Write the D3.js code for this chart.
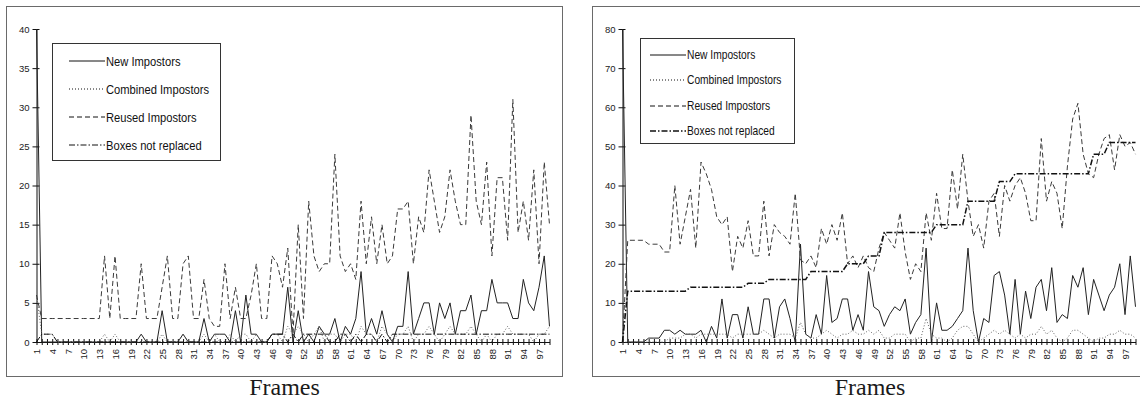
<!DOCTYPE html>
<html lang="en">
<head>
<meta charset="UTF-8">
<title>Impostors per frame</title>
<script src="https://cdn.jsdelivr.net/npm/d3@7/dist/d3.min.js"></script>
<style>
    body { margin: 0; background: #fff; }
    svg { display: block; }
    .tick text { font-family: "Liberation Sans", Arial, sans-serif; font-size: 9.5px; fill: #222; }
    .legend text { font-family: "Liberation Sans Narrow", "Arial Narrow", "Liberation Sans", sans-serif; fill: #111; }
    .frames { font-family: "Liberation Serif", "Times New Roman", serif; font-size: 24px; fill: #1a1a1a; }
</style>
</head>
<body>
<svg id="chart" width="1140" height="408"></svg>
<script>
// frames 1..99 on the category axis
var frames = d3.range(1, 100)
var xLabels = [1, 4, 7, 10, 13, 16, 19, 22, 25, 28, 31, 34, 37, 40, 43, 46, 49, 52, 55, 58,
    61, 64, 67, 70, 73, 76, 79, 82, 85, 88, 91, 94, 97]
var leftYTicks = [0, 5, 10, 15, 20, 25, 30, 35, 40]
var rightYTicks = [0, 10, 20, 30, 40, 50, 60, 70, 80]
var seriesNames = ['New Impostors', 'Combined Impostors', 'Reused Impostors', 'Boxes not replaced']

// left chart
var leftNew = [40, 0, 0, 0, 0, 0, 0, 0, 0, 0,
    0, 0, 0, 0, 0, 0, 0, 0, 0, 0,
    1, 0, 0, 0, 4, 0, 0, 0, 1, 0,
    0, 0, 3, 0, 1, 1, 1, 0, 4, 0,
    6, 1, 1, 0, 0, 1, 1, 1, 7, 0,
    4, 0, 1, 0, 2, 1, 1, 3, 0, 2,
    1, 3, 9, 1, 3, 1, 4, 1, 0, 2,
    2, 9, 1, 3, 5, 5, 1, 5, 3, 5,
    1, 4, 4, 6, 1, 4, 4, 8, 5, 5,
    5, 3, 3, 8, 5, 4, 7, 11, 2]
var leftCombined = [6, 1, 1, 1, 0, 0, 0, 0, 0, 0,
    0, 0, 0, 1, 0, 1, 0, 0, 0, 0,
    0, 0, 0, 0, 1, 0, 0, 0, 1, 0,
    0, 0, 1, 0, 1, 0, 0, 1, 0, 1,
    1, 0, 1, 0, 0, 1, 1, 0, 2, 1,
    2, 1, 0, 1, 2, 0, 1, 1, 0, 1,
    1, 0, 2, 1, 1, 0, 2, 1, 0, 1,
    1, 2, 0, 1, 1, 2, 1, 0, 1, 2,
    1, 1, 1, 2, 1, 0, 1, 0, 1, 1,
    2, 1, 1, 1, 1, 0, 1, 1, 2]
var leftReused = [6, 3, 3, 3, 3, 3, 3, 3, 3, 3,
    3, 3, 3, 11, 3, 11, 3, 3, 3, 3,
    10, 3, 3, 3, 7, 11, 3, 3, 10, 11,
    3, 3, 8, 3, 2, 2, 10, 3, 7, 3,
    3, 6, 10, 3, 3, 11, 10, 7, 12, 1,
    15, 3, 18, 11, 9, 10, 10, 24, 11, 9,
    10, 8, 18, 10, 16, 10, 15, 10, 11, 17,
    17, 18, 10, 16, 14, 22, 18, 14, 16, 22,
    18, 15, 15, 29, 18, 15, 23, 11, 21, 21,
    13, 31, 14, 18, 13, 22, 10, 23, 15]
var leftBoxes = [0, 1, 1, 1, 0, 0, 0, 0, 0, 0,
    0, 0, 0, 0, 0, 0, 0, 0, 0, 0,
    0, 0, 0, 0, 0, 0, 0, 0, 0, 0,
    0, 0, 0, 0, 0, 0, 0, 0, 0, 0,
    0, 0, 0, 0, 0, 1, 1, 1, 0, 1,
    0, 1, 1, 1, 1, 1, 0, 0, 1, 1,
    0, 1, 0, 1, 1, 0, 1, 0, 1, 1,
    1, 1, 1, 1, 1, 1, 1, 1, 1, 1,
    1, 1, 1, 1, 1, 1, 1, 1, 1, 1,
    1, 1, 1, 1, 1, 1, 1, 1, 1]

// right chart
var rightNew = [80, 0, 0, 0, 0, 1, 1, 1, 3, 3,
    2, 3, 2, 2, 2, 3, 0, 4, 1, 11,
    1, 7, 7, 1, 9, 2, 2, 11, 11, 1,
    9, 11, 6, 0, 25, 2, 1, 7, 2, 17,
    5, 6, 11, 11, 3, 7, 3, 18, 9, 8,
    4, 7, 9, 8, 11, 2, 5, 7, 24, 0,
    10, 3, 3, 4, 6, 8, 24, 8, 0, 6,
    5, 17, 18, 12, 2, 16, 2, 13, 6, 14,
    16, 8, 19, 5, 7, 6, 17, 14, 19, 7,
    16, 12, 8, 12, 14, 20, 7, 22, 9]
var rightCombined = [0, 0, 0, 0, 0, 0, 0, 0, 0, 1,
    1, 1, 2, 2, 1, 2, 2, 2, 2, 2,
    2, 1, 2, 2, 2, 2, 2, 3, 2, 1,
    2, 2, 2, 1, 5, 2, 1, 1, 2, 3,
    2, 1, 2, 2, 3, 2, 2, 3, 2, 3,
    1, 1, 2, 2, 2, 0, 1, 1, 6, 2,
    1, 1, 0, 1, 3, 4, 4, 2, 0, 1,
    2, 3, 2, 3, 2, 1, 2, 1, 2, 2,
    4, 2, 3, 1, 0, 1, 3, 3, 2, 1,
    0, 1, 1, 2, 2, 3, 2, 2, 1]
var rightReused = [0, 26, 26, 26, 26, 25, 25, 25, 23, 23,
    40, 25, 32, 39, 24, 46, 43, 39, 32, 30,
    32, 18, 27, 24, 31, 22, 22, 36, 22, 30,
    28, 27, 25, 38, 21, 20, 22, 19, 29, 25,
    30, 26, 33, 20, 22, 19, 22, 19, 18, 24,
    28, 26, 24, 33, 23, 16, 20, 18, 33, 26,
    38, 29, 29, 44, 34, 48, 36, 27, 30, 24,
    36, 38, 27, 40, 36, 40, 42, 38, 31, 31,
    52, 36, 41, 38, 29, 45, 57, 61, 48, 43,
    42, 48, 52, 53, 44, 53, 50, 51, 48]
var rightBoxes = [0, 13, 13, 13, 13, 13, 13, 13, 13, 13,
    13, 13, 13, 14, 14, 14, 14, 14, 14, 14,
    14, 14, 14, 14, 15, 15, 15, 15, 16, 16,
    16, 16, 16, 16, 16, 16, 18, 18, 18, 18,
    18, 18, 18, 20, 20, 20, 20, 22, 22, 22,
    28, 28, 28, 28, 28, 28, 28, 28, 28, 28,
    30, 30, 30, 30, 30, 30, 36, 36, 36, 36,
    36, 36, 41, 41, 41, 43, 43, 43, 43, 43,
    43, 43, 43, 43, 43, 43, 43, 43, 43, 43,
    48, 48, 48, 51, 51, 51, 51, 51, 51]

var svg = d3.select('#chart')
svg.append('rect').attr('width', 1140).attr('height', 408).attr('fill', '#fff')

// line looks per series (same order as seriesNames)
var looks = [
    {stroke: '#222', dash: null},
    {stroke: '#666', dash: '1,2'},
    {stroke: '#3a3a3a', dash: '5,3'},
    {stroke: '#111', dash: '6,2,1.5,2'}
]

function drawPanel (opt) {
    var g = svg.append('g')

    g.append('rect')
        .attr('x', opt.box[0] + 0.5).attr('y', opt.box[1] + 0.5)
        .attr('width', opt.box[2]).attr('height', opt.box[3])
        .attr('fill', 'none').attr('stroke', '#6a6a6a')

    var x = d3.scalePoint().domain(frames).range(opt.xRange)
    var y = d3.scaleLinear().domain([0, opt.yMax]).range([342, 29])

    // y axis, ticks cross the line
    var yAxis = g.append('g')
        .attr('transform', 'translate(' + opt.xRange[0] + ',0)')
        .call(d3.axisLeft(y).tickValues(opt.yTicks).tickSize(4).tickSizeOuter(0).tickPadding(4))
    yAxis.select('.domain').attr('stroke', '#111')
    yAxis.selectAll('.tick line').attr('x1', 3).attr('x2', -4).attr('stroke', '#111')
    yAxis.selectAll('.tick text').attr('x', -7)

    var xAxis = g.append('g')
        .attr('transform', 'translate(0,' + y(0) + ')')
        .call(d3.axisBottom(x).tickValues(frames).tickSizeOuter(0)
            .tickFormat(function (d) { return xLabels.indexOf(d) >= 0 ? d : '' }))
    xAxis.select('.domain').attr('stroke', '#111')
    xAxis.selectAll('.tick line').attr('y1', -3).attr('y2', 3).attr('stroke', '#111')
    xAxis.selectAll('.tick text')
        .attr('transform', 'rotate(-90)')
        .attr('x', -7).attr('y', 0).attr('dy', '0.35em')
        .style('text-anchor', 'end')

    var line = d3.line()
        .x(function (d, i) { return x(frames[i]) })
        .y(function (d) { return y(d) })

    opt.series.forEach(function (values, k) {
        var p = g.append('path')
            .attr('d', line(values))
            .attr('fill', 'none')
            .attr('stroke', looks[k].stroke)
            .attr('stroke-width', k === 3 ? opt.boxesWidth : 1)
        if (looks[k].dash) p.attr('stroke-dasharray', looks[k].dash)
    })

    // legend
    var lg = g.append('g').attr('class', 'legend')
    var L = opt.legend
    lg.append('rect')
        .attr('x', L.x + 0.5).attr('y', L.y + 0.5)
        .attr('width', L.w).attr('height', L.h)
        .attr('fill', '#fff').attr('stroke', '#333')
    seriesNames.forEach(function (name, k) {
        var ry = L.rows[k]
        var s = lg.append('line')
            .attr('x1', L.lineX[0]).attr('x2', L.lineX[1])
            .attr('y1', ry).attr('y2', ry)
            .attr('stroke', '#111')
            .attr('stroke-width', k === 3 ? opt.boxesWidth : 1)
        if (looks[k].dash) s.attr('stroke-dasharray', looks[k].dash)
        var t = lg.append('text')
            .attr('x', L.lineX[1] + 1).attr('y', ry)
            .attr('dy', '0.35em')
            .style('font-size', L.font + 'px')
            .text(name)
        // the original uses a narrow face; squeeze the regular one if that is what we got
        var w = t.node().getComputedTextLength()
        if (w > 0) t.attr('textLength', w * 0.84).attr('lengthAdjust', 'spacingAndGlyphs')
    })

    g.append('text')
        .attr('class', 'frames')
        .attr('x', opt.titleX).attr('y', 395)
        .attr('text-anchor', 'middle')
        .text('Frames')
}

drawPanel({
    box: [6, 6, 556, 370],
    xRange: [36.5, 549.5],
    yMax: 40,
    yTicks: leftYTicks,
    series: [leftNew, leftCombined, leftReused, leftBoxes],
    boxesWidth: 1,
    legend: {x: 52, y: 43, w: 168, h: 117, lineX: [69, 105], rows: [61, 89, 117, 145], font: 13.3},
    titleX: 284.5
})

drawPanel({
    box: [592, 6, 560, 370],
    xRange: [622.5, 1135.5],
    yMax: 80,
    yTicks: rightYTicks,
    series: [rightNew, rightCombined, rightReused, rightBoxes],
    boxesWidth: 1.5,
    legend: {x: 640, y: 38, w: 154, h: 105, lineX: [650, 686], rows: [55, 80, 106, 131], font: 12.2},
    titleX: 870
})
</script>
</body>
</html>
